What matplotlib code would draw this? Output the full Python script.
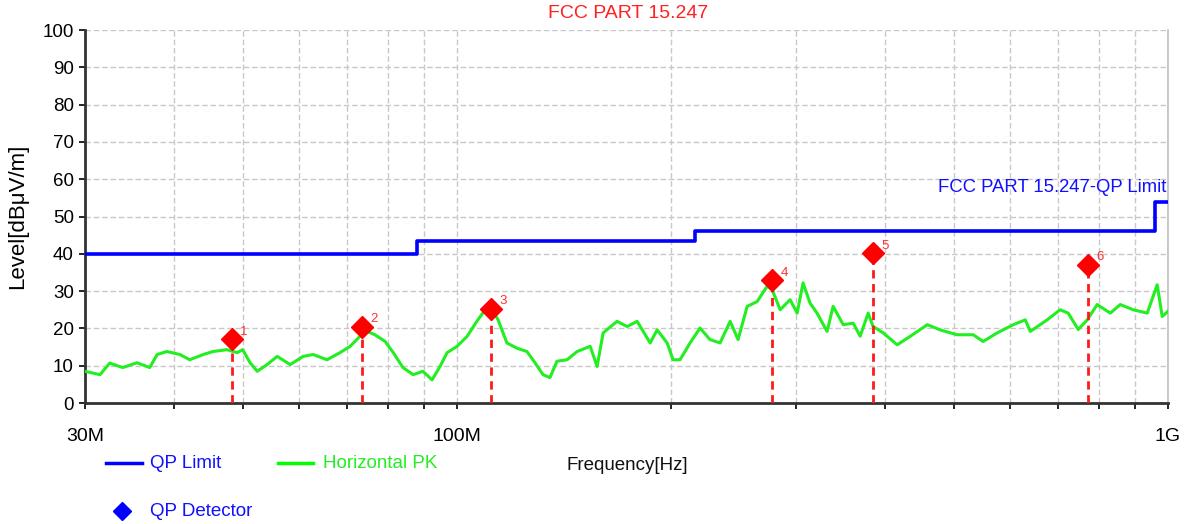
import numpy as np
import matplotlib
matplotlib.use("Agg")
import matplotlib.pyplot as plt
from matplotlib.ticker import FixedLocator, NullFormatter

plt.rcParams['font.family'] = ['Liberation Sans', 'DejaVu Sans']

# horizontal peak trace, MHz / dBuV/m
pk_freq = [30.0, 31.5, 32.5, 33.9, 35.5, 37.0, 37.9, 39.1, 40.8, 42.1, 44.0, 45.4, 47.5, 49.1,
           50.0, 51.2, 52.4, 54.1, 55.9, 58.3, 60.8, 62.8, 65.7, 68.5, 70.8, 73.1, 74.8, 76.7,
           79.3, 81.4, 84.0, 86.8, 89.6, 92.3, 94.7, 96.9, 100.1, 103.4, 106.7, 109.6, 112.1,
           114.3, 117.6, 121.5, 125.5, 128.8, 132.2, 135.2, 138.3, 142.9, 147.6, 154.0, 157.5,
           160.6, 168.0, 173.6, 179.3, 187.0, 191.3, 197.6, 201.4, 206.0, 212.8, 219.8, 227.0,
           234.5, 242.3, 248.6, 256.0, 264.4, 273.1, 277.6, 284.9, 294.2, 301.0, 306.8, 313.8,
           321.0, 331.6, 338.2, 349.4, 360.9, 369.1, 378.8, 384.9, 397.7, 416.1, 434.2, 458.8,
           478.2, 505.2, 532.3, 549.6, 575.2, 606.1, 630.0, 640.3, 676.3, 705.3, 723.9, 747.8,
           769.9, 795.2, 829.6, 856.8, 893.6, 935.0, 965.7, 981.5, 1000.0]
pk_level = [8.5, 7.6, 10.7, 9.5, 10.8, 9.5, 13.0, 13.8, 13.0, 11.6, 13.0, 13.8, 14.3, 13.5,
            14.3, 10.8, 8.5, 10.3, 12.5, 10.3, 12.5, 13.0, 11.6, 13.5, 15.2, 17.9, 19.2, 18.3,
            16.5, 13.5, 9.5, 7.6, 8.5, 6.2, 9.8, 13.5, 15.2, 17.9, 21.9, 25.0, 25.0,
            22.3, 16.1, 14.7, 13.8, 10.8, 7.6, 6.8, 11.2, 11.6, 13.8, 15.2, 9.8,
            18.8, 21.9, 20.5, 21.9, 16.1, 19.6, 16.1, 11.6, 11.6, 16.1, 20.1, 17.0,
            16.1, 21.9, 17.0, 25.9, 27.2, 31.3, 30.4, 25.0, 27.7, 24.1, 32.2, 26.8,
            24.1, 19.2, 25.9, 21.0, 21.4, 17.9, 24.1, 20.5, 18.8, 15.6, 17.9, 21.0,
            19.6, 18.3, 18.3, 16.5, 18.8, 21.0, 22.3, 19.2, 22.3, 25.0, 24.1, 19.7,
            22.3, 26.4, 24.1, 26.4, 25.0, 24.1, 31.7, 23.2, 24.6]

# QP limit steps
lim_freq = [30, 88, 88, 216, 216, 960, 960, 1000]
lim_level = [40, 40, 43.5, 43.5, 46, 46, 54, 54]

# QP detector points
qp_freq = [48.3, 73.6, 111.7, 277.8, 385.4, 771.0]
qp_level = [17.2, 20.5, 25.3, 32.9, 40.2, 37.1]
qp_labels = ['1', '2', '3', '4', '5', '6']

fig = plt.figure(figsize=(11.9, 5.24), dpi=100)
ax = fig.add_axes([0.0714, 0.2309, 0.9101, 0.7118])
ax.set_xscale('log')
ax.set_xlim(30, 1000)
ax.set_ylim(0, 100)

ax.plot(pk_freq, pk_level, color='#22ee22', lw=2.2, zorder=3)
ax.plot(lim_freq, lim_level, color='#0000ff', lw=2.6, zorder=4)
for f, v, lab in zip(qp_freq, qp_level, qp_labels):
    ax.plot([f, f], [0, v], color='#ff1a1a', lw=2, ls=(0, (3, 2)), zorder=5)
    ax.annotate(lab, (f, v), xytext=(6, 3), textcoords='offset points', color='#ff3030',
                fontsize=9.5, zorder=6)
ax.plot(qp_freq, qp_level, 'D', color='#ff0000', ms=11, mec='#ff0000', zorder=6, clip_on=False)

# ticks & grid
minor = [40, 50, 60, 70, 80, 90, 200, 300, 400, 500, 600, 700, 800, 900]
ax.xaxis.set_major_locator(FixedLocator([30, 100, 1000]))
ax.xaxis.set_minor_locator(FixedLocator(minor))
ax.xaxis.set_minor_formatter(NullFormatter())
ax.set_xticklabels(['30M', '100M', '1G'])
ax.set_yticks(np.arange(0, 101, 10))
ax.tick_params(axis='x', which='both', direction='out', length=4, width=1.2, labelsize=14, pad=14)
ax.tick_params(axis='y', direction='out', length=4, width=1.2, labelsize=13.5, pad=4)
ax.grid(True, which='both', color='#c8c8c8', ls=(0, (4, 2)), lw=1)
for s in ['left', 'bottom']:
    ax.spines[s].set_color('#333333')
    ax.spines[s].set_linewidth(2)
ax.spines['top'].set_visible(False)
ax.spines['right'].set_color('#c0c0c0')
ax.spines['right'].set_linewidth(1.2)

ax.set_ylabel('Level[dBμV/m]', fontsize=16, labelpad=10)
fig.text(628 / 1190, 1 - 14 / 524, 'FCC PART 15.247', color='#ff2020', fontsize=14,
         ha='center', va='center')
fig.text(1166 / 1190, 1 - 188 / 524, 'FCC PART 15.247-QP Limit', color='#1010ff', fontsize=13.3,
         ha='right', va='center')

# legend area
fig.lines.append(plt.Line2D([106 / 1190, 142 / 1190], [1 - 463 / 524] * 2, color='#0000ff',
                            lw=2.5, transform=fig.transFigure))
fig.text(150 / 1190, 1 - 463 / 524, 'QP Limit', color='#1010ff', fontsize=13.5, va='center')
fig.lines.append(plt.Line2D([278 / 1190, 313 / 1190], [1 - 463 / 524] * 2, color='#00ff00',
                            lw=2.5, transform=fig.transFigure))
fig.text(323 / 1190, 1 - 463 / 524, 'Horizontal PK', color='#22ee22', fontsize=13.5, va='center')
fig.text(567 / 1190, 1 - 466 / 524, 'Frequency[Hz]', color='#111111', fontsize=13.5, va='center')
fig.lines.append(plt.Line2D([122 / 1190], [1 - 511 / 524], marker='D', ms=9, color='#0000ff',
                            ls='none', transform=fig.transFigure))
fig.text(150 / 1190, 1 - 511 / 524, 'QP Detector', color='#1010ff', fontsize=13.5, va='center')

fig.savefig('out.png', dpi=100)
